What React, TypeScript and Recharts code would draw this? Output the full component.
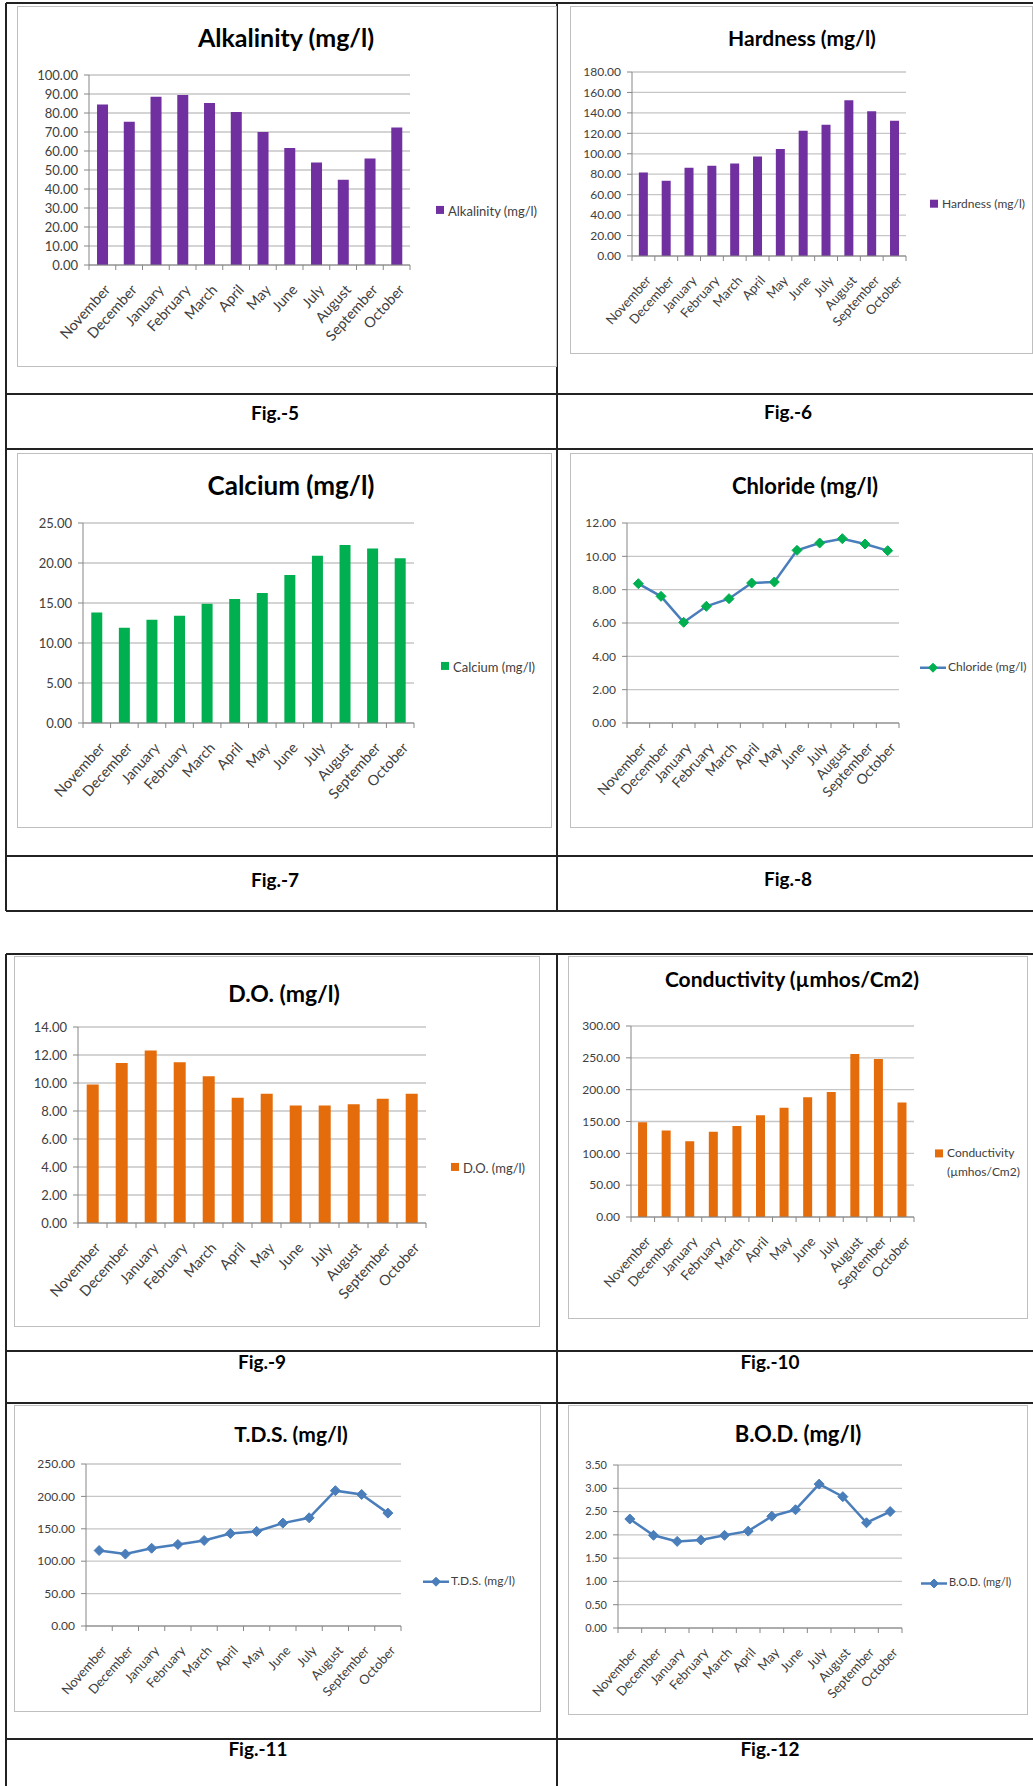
import React from "react";
import { BarChart, Bar, LineChart, Line, XAxis, YAxis, CartesianGrid } from "recharts";

const months = [
  "November", "December", "January", "February", "March", "April",
  "May", "June", "July", "August", "September", "October",
];

const alkalinity = [84.5, 75.4, 88.6, 89.5, 85.3, 80.5, 70.0, 61.6, 53.9, 44.9, 56.0, 72.4];
const hardness = [81.7, 73.6, 86.3, 88.3, 90.5, 97.4, 104.6, 122.5, 128.3, 152.4, 141.7, 132.2];
const calcium = [13.8, 11.9, 12.9, 13.4, 14.9, 15.5, 16.25, 18.5, 20.9, 22.25, 21.8, 20.6];
const chloride = [8.36, 7.6, 6.04, 7.0, 7.46, 8.4, 8.46, 10.36, 10.8, 11.06, 10.74, 10.34];
const dissolvedOxygen = [9.9, 11.43, 12.33, 11.48, 10.48, 8.95, 9.24, 8.4, 8.4, 8.48, 8.88, 9.24];
const conductivity = [149, 136, 119, 134, 143, 160, 171.5, 188, 196.5, 256, 248, 180];
const tds = [116.5, 111, 120, 125.8, 132, 142.8, 146, 158.8, 167, 208.8, 203, 174.2];
const bod = [2.34, 1.99, 1.86, 1.89, 1.99, 2.08, 2.4, 2.54, 3.09, 2.82, 2.26, 2.5];

const alkalinityTicks = [0, 10, 20, 30, 40, 50, 60, 70, 80, 90, 100];
const hardnessTicks = [0, 20, 40, 60, 80, 100, 120, 140, 160, 180];
const calciumTicks = [0, 5, 10, 15, 20, 25];
const chlorideTicks = [0, 2, 4, 6, 8, 10, 12];
const doTicks = [0, 2, 4, 6, 8, 10, 12, 14];
const conductivityTicks = [0, 50, 100, 150, 200, 250, 300];
const tdsTicks = [0, 50, 100, 150, 200, 250];
const bodTicks = [0, 0.5, 1, 1.5, 2, 2.5, 3, 3.5];

const PURPLE = "#7030A0";
const GREEN = "#00B050";
const ORANGE = "#E46C0A";
const BLUE = "#4A7EBB";
const AXIS = "#868686";
const GRID = "#C6C6C6";
const TEXT = "#404040";

const panels = [
  {
    title: "Alkalinity (mg/l)", legend: ["Alkalinity (mg/l)"], values: alkalinity, ticks: alkalinityTicks,
    kind: "bar", color: PURPLE,
    box: { l: 17, t: 6, w: 540, h: 361 }, plot: { l: 89, t: 75, r: 410, b: 265 },
    titleAt: { x: 286, y: 37, size: 25 }, legendAt: { x: 436, y: 211 }, font: 13, labelFont: 14.5,
  },
  {
    title: "Hardness (mg/l)", legend: ["Hardness (mg/l)"], values: hardness, ticks: hardnessTicks,
    kind: "bar", color: PURPLE,
    box: { l: 570, t: 6, w: 463, h: 348 }, plot: { l: 632, t: 72, r: 906, b: 256 },
    titleAt: { x: 802, y: 37, size: 21 }, legendAt: { x: 930, y: 204 }, font: 12, labelFont: 13,
  },
  {
    title: "Calcium (mg/l)", legend: ["Calcium (mg/l)"], values: calcium, ticks: calciumTicks,
    kind: "bar", color: GREEN,
    box: { l: 17, t: 453, w: 535, h: 375 }, plot: { l: 83, t: 523, r: 414, b: 723 },
    titleAt: { x: 291, y: 485, size: 26 }, legendAt: { x: 441, y: 667 }, font: 13, labelFont: 14.5,
  },
  {
    title: "Chloride (mg/l)", legend: ["Chloride (mg/l)"], values: chloride, ticks: chlorideTicks,
    kind: "line", color: BLUE, marker: GREEN,
    box: { l: 570, t: 453, w: 463, h: 375 }, plot: { l: 627, t: 523, r: 899, b: 723 },
    titleAt: { x: 805, y: 485, size: 22 }, legendAt: { x: 920, y: 667 }, font: 12, labelFont: 14,
  },
  {
    title: "D.O. (mg/l)", legend: ["D.O. (mg/l)"], values: dissolvedOxygen, ticks: doTicks,
    kind: "bar", color: ORANGE,
    box: { l: 14, t: 956, w: 526, h: 371 }, plot: { l: 78, t: 1027, r: 426, b: 1223 },
    titleAt: { x: 284, y: 993, size: 23 }, legendAt: { x: 451, y: 1168 }, font: 13, labelFont: 14.5,
  },
  {
    title: "Conductivity (µmhos/Cm2)", legend: ["Conductivity", "(µmhos/Cm2)"], values: conductivity, ticks: conductivityTicks,
    kind: "bar", color: ORANGE,
    box: { l: 568, t: 956, w: 460, h: 363 }, plot: { l: 631, t: 1026, r: 914, b: 1217 },
    titleAt: { x: 792, y: 978, size: 21 }, legendAt: { x: 935, y: 1163 }, font: 12, labelFont: 13.5,
  },
  {
    title: "T.D.S. (mg/l)", legend: ["T.D.S. (mg/l)"], values: tds, ticks: tdsTicks,
    kind: "line", color: BLUE, marker: BLUE,
    box: { l: 14, t: 1405, w: 527, h: 307 }, plot: { l: 86, t: 1464, r: 401, b: 1626 },
    titleAt: { x: 291, y: 1433, size: 21 }, legendAt: { x: 423, y: 1581 }, font: 12, labelFont: 13,
  },
  {
    title: "B.O.D. (mg/l)", legend: ["B.O.D. (mg/l)"], values: bod, ticks: bodTicks,
    kind: "line", color: BLUE, marker: BLUE,
    box: { l: 568, t: 1405, w: 460, h: 310 }, plot: { l: 618, t: 1465, r: 902, b: 1628 },
    titleAt: { x: 798, y: 1433, size: 22 }, legendAt: { x: 921, y: 1582 }, font: 11, labelFont: 13,
  },
];

const captions = [
  { text: "Fig.-5", x: 275, y: 412 },
  { text: "Fig.-6", x: 788, y: 411 },
  { text: "Fig.-7", x: 275, y: 879 },
  { text: "Fig.-8", x: 788, y: 878 },
  { text: "Fig.-9", x: 262, y: 1361 },
  { text: "Fig.-10", x: 770, y: 1361 },
  { text: "Fig.-11", x: 258, y: 1748 },
  { text: "Fig.-12", x: 770, y: 1748 },
];

const hLines = [3, 394, 449, 856, 911, 954, 1351, 1403, 1739];
const vSegments = [
  { x: 6, t: 3, b: 911 }, { x: 557, t: 3, b: 911 },
  { x: 6, t: 954, b: 1786 }, { x: 557, t: 954, b: 1786 },
];

const Diamond = ({ cx, cy, r, fill }: any) => (
  <path d={`M${cx} ${cy - r}L${cx + r} ${cy}L${cx} ${cy + r}L${cx - r} ${cy}Z`} fill={fill} stroke={fill} strokeWidth={1} />
);

function Panel({ p }: any) {
  const { box, plot } = p;
  const data = months.map((m, i) => ({ month: m, value: p.values[i] }));
  const yW = 60;
  const xH = 80;
  const margin = {
    top: plot.t - box.t,
    left: plot.l - box.l - yW,
    right: box.l + box.w - plot.r,
    bottom: box.t + box.h - plot.b - xH,
  };
  const bw = (plot.r - plot.l) / months.length;
  const maxTick = p.ticks[p.ticks.length - 1];

  const XTick = (props: any) => {
    const { x, y, payload, index } = props;
    const ax = x + 5;
    const ay = y + 22;
    return (
      <g>
        <line x1={x - bw / 2} y1={y} x2={x - bw / 2} y2={y + 5} stroke={AXIS} />
        {index === months.length - 1 && <line x1={x + bw / 2} y1={y} x2={x + bw / 2} y2={y + 5} stroke={AXIS} />}
        <text
          x={ax}
          y={ay}
          dy="0.35em"
          textAnchor="end"
          transform={`rotate(-48 ${ax} ${ay})`}
          fontSize={p.labelFont}
          fill={TEXT}
        >
          {payload.value}
        </text>
      </g>
    );
  };

  const axes = [
    <CartesianGrid key="g" vertical={false} stroke={GRID} strokeWidth={1.3} />,
    <XAxis
      key="x"
      dataKey="month"
      interval={0}
      height={xH}
      tickSize={0}
      tickMargin={0}
      tickLine={false}
      axisLine={{ stroke: AXIS }}
      tick={XTick}
      padding={p.kind === "line" ? { left: bw / 2, right: bw / 2 } : undefined}
    />,
    <YAxis
      key="y"
      width={yW}
      domain={[0, maxTick]}
      ticks={p.ticks}
      interval={0}
      tickSize={5}
      tickMargin={6}
      axisLine={{ stroke: AXIS }}
      tickLine={{ stroke: AXIS }}
      tick={{ fontSize: p.font, fill: TEXT }}
      tickFormatter={(v: number) => v.toFixed(2)}
    />,
  ];

  return (
    <>
      <div
        style={{
          position: "absolute", left: box.l, top: box.t, width: box.w, height: box.h,
          border: "1.5px solid #BFBFBF", boxSizing: "border-box",
        }}
      />
      <div style={{ position: "absolute", left: box.l, top: box.t }}>
        {p.kind === "bar" ? (
          <BarChart width={box.w} height={box.h} data={data} margin={margin} barCategoryGap="30%">
            {axes}
            <Bar dataKey="value" fill={p.color} isAnimationActive={false} />
          </BarChart>
        ) : (
          <LineChart width={box.w} height={box.h} data={data} margin={margin}>
            {axes}
            <Line
              dataKey="value"
              stroke={p.color}
              strokeWidth={2.5}
              isAnimationActive={false}
              dot={(d: any) => <Diamond key={d.index} cx={d.cx} cy={d.cy} r={5} fill={p.marker} />}
            />
          </LineChart>
        )}
      </div>
      <div
        style={{
          position: "absolute", left: p.titleAt.x, top: p.titleAt.y, transform: "translate(-50%, -50%)",
          whiteSpace: "nowrap", fontWeight: 700, fontSize: p.titleAt.size, color: "#000",
        }}
      >
        {p.title}
      </div>
      <div
        style={{
          position: "absolute", left: p.legendAt.x, top: p.legendAt.y, transform: "translateY(-50%)",
          display: "flex", alignItems: "flex-start", fontSize: p.font, color: TEXT, lineHeight: 1.55,
        }}
      >
        {p.kind === "bar" ? (
          <span style={{ width: 8, height: 8, background: p.color, marginTop: 5, marginRight: 4, flex: "none" }} />
        ) : (
          <svg width={26} height={14} style={{ marginTop: 3, marginRight: 2, flex: "none" }}>
            <line x1={0} y1={7} x2={26} y2={7} stroke={p.color} strokeWidth={2.5} />
            <Diamond cx={13} cy={7} r={4.5} fill={p.marker} />
          </svg>
        )}
        <div>
          {p.legend.map((l: string) => (
            <div key={l} style={{ whiteSpace: "nowrap" }}>{l}</div>
          ))}
        </div>
      </div>
    </>
  );
}

export default function App() {
  return (
    <div
      style={{
        position: "absolute", left: 0, top: 0, width: 1033, height: 1786, overflow: "hidden",
        background: "#fff", fontFamily: "Lato, 'Open Sans', sans-serif",
      }}
    >
      {hLines.map((y) => (
        <div key={`h${y}`} style={{ position: "absolute", left: 6, top: y - 1, width: 1027, height: 2, background: "#222" }} />
      ))}
      {vSegments.map((s, i) => (
        <div key={`v${i}`} style={{ position: "absolute", left: s.x - 1, top: s.t, width: 2, height: s.b - s.t, background: "#222" }} />
      ))}
      {panels.map((p) => (
        <Panel key={p.title} p={p} />
      ))}
      {captions.map((c) => (
        <div
          key={c.text}
          style={{
            position: "absolute", left: c.x, top: c.y, transform: "translate(-50%, -50%)",
            fontWeight: 700, fontSize: 19, color: "#000", whiteSpace: "nowrap",
          }}
        >
          {c.text}
        </div>
      ))}
    </div>
  );
}
